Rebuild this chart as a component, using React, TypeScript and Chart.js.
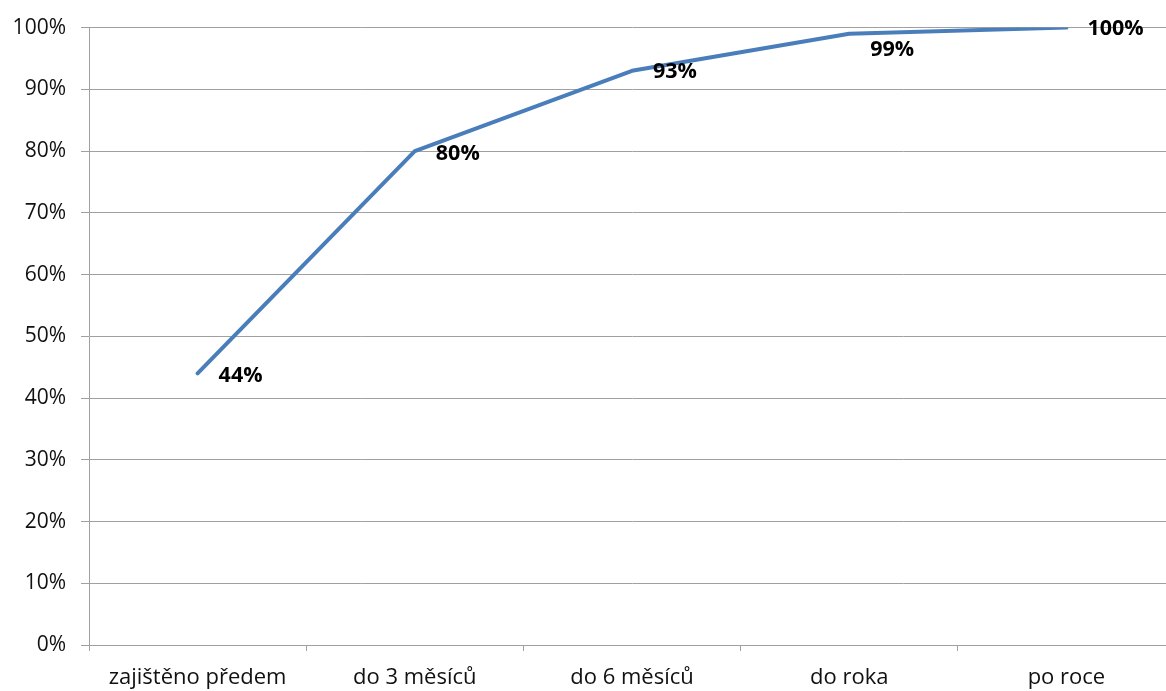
import React, { useEffect, useRef } from "react";
import { Chart, registerables } from "chart.js";

Chart.register(...registerables);

const categories = ["zajištěno předem", "do 3 měsíců", "do 6 měsíců", "do roka", "po roce"];
const values = [44, 80, 93, 99, 100];
const valueLabels = ["44%", "80%", "93%", "99%", "100%"];
const yTicks = [0, 10, 20, 30, 40, 50, 60, 70, 80, 90, 100];

const FONT = "'Open Sans', 'DejaVu Sans', sans-serif";
const GRID = "#a0a0a0";
const labelOffsetsY = [3, 3, 1, 16, 1];

const dataLabelPlugin = {
  id: "dataLabels",
  afterDatasetsDraw(chart: any) {
    const meta = chart.getDatasetMeta(0);
    const ctx = chart.ctx;
    ctx.save();
    ctx.font = `bold 21.5px ${FONT}`;
    ctx.fillStyle = "#000";
    ctx.textAlign = "left";
    ctx.textBaseline = "middle";
    meta.data.forEach((pt: any, i: number) => {
      ctx.fillText(valueLabels[i], pt.x + 21, pt.y + labelOffsetsY[i]);
    });
    ctx.restore();
  },
};

export default function App() {
  const ref = useRef<HTMLCanvasElement | null>(null);
  useEffect(() => {
    if (!ref.current) return;
    const chart = new Chart(ref.current, {
      type: "line",
      data: {
        labels: categories,
        datasets: [
          {
            data: values,
            borderColor: "#4a7ebb",
            borderWidth: 4,
            borderCapStyle: "round",
            borderJoinStyle: "round",
            pointRadius: 0,
            tension: 0,
            fill: false,
          },
        ],
      },
      options: {
        responsive: false,
        animation: false,
        layout: { padding: { top: 27, left: 0, right: 0, bottom: 0 } },
        plugins: { legend: { display: false }, tooltip: { enabled: false } },
        scales: {
          x: {
            offset: true,
            grid: {
              offset: true,
              drawOnChartArea: false,
              drawTicks: true,
              tickLength: 6,
              color: GRID,
            },
            border: { color: GRID, width: 1 },
            ticks: {
              color: "#111",
              font: { family: FONT, size: 22 },
              padding: 14,
              maxRotation: 0,
              autoSkip: false,
            },
            afterFit(scale: any) {
              scale.height = 46;
            },
          },
          y: {
            min: 0,
            max: 100,
            afterBuildTicks(scale: any) {
              scale.ticks = yTicks.map((v) => ({ value: v }));
            },
            grid: { color: GRID, tickLength: 8, lineWidth: 1 },
            border: { color: GRID, width: 1 },
            ticks: {
              color: "#111",
              font: { family: FONT, size: 21 },
              padding: 15,
              callback: (v: any) => `${v}%`,
            },
            afterFit(scale: any) {
              scale.width = 89;
            },
          },
        },
      },
      plugins: [dataLabelPlugin],
    });
    return () => chart.destroy();
  }, []);
  return (
    <div
      style={{
        position: "fixed",
        left: 0,
        top: 0,
        width: 1166,
        height: 691,
        overflow: "hidden",
        background: "#fff",
      }}
    >
      <canvas ref={ref} width={1175} height={691} style={{ width: 1175, height: 691, display: "block" }} />
    </div>
  );
}
